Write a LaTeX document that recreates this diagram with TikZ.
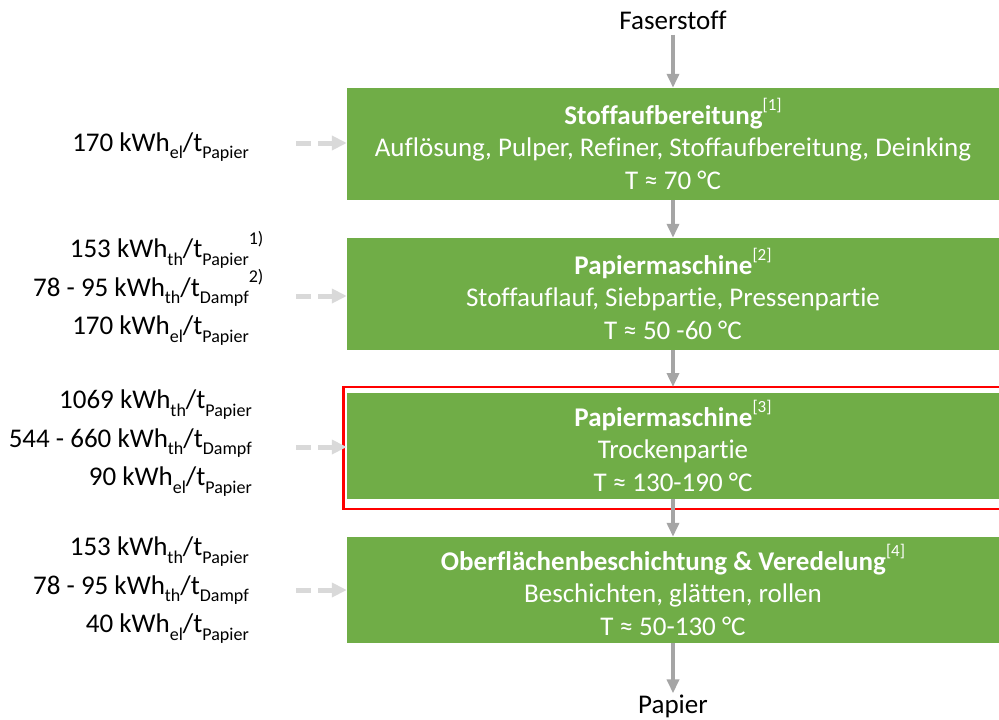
\documentclass[tikz,border=0pt]{standalone}
\usepackage{fontspec}
\setmainfont{Carlito}[Ligatures=NoCommon]
\usetikzlibrary{arrows.meta}
\definecolor{boxgreen}{HTML}{70AD47}
\definecolor{arrgray}{HTML}{A5A5A5}
\definecolor{dashgray}{HTML}{D9D9D9}
\definecolor{hlred}{HTML}{FF0000}
\newcommand\lo[1]{\raisebox{-0.28em}{\fontsize{18}{18}\selectfont #1}}
\newcommand\hi[1]{\rlap{\raisebox{0.5em}{\fontsize{18}{18}\selectfont #1}}}
\newcommand\srcref[1]{\raisebox{0.5em}{\fontsize{17}{17}\selectfont\mdseries[#1]}}
\tikzset{
  stepbox/.style={fill=boxgreen, draw=none, minimum width=652pt, text=white,
    align=center, inner sep=0pt, font=\fontsize{27}{32.5}\selectfont},
  lefttext/.style={anchor=east, align=right, inner sep=0pt,
    font=\fontsize{27}{38.5}\selectfont},
  endtext/.style={inner sep=2pt, font=\fontsize{27}{30}\selectfont},
  garrow/.style={draw=arrgray, line width=3.5pt, -{Triangle[width=12pt,length=14pt]}},
  darrow/.style={draw=dashgray, line width=5pt, dash pattern=on 15pt off 7pt,
    -{Triangle[width=14pt,length=15pt]}},
}
\begin{document}
\begin{tikzpicture}[x=1pt,y=-1pt]
\useasboundingbox (0,0) rectangle (999,720);
% highlight frame
\draw[hlred, line width=2.5pt] (1002,387) -| (343.5,509) -- (1002,509);
\coordinate (hltop) at (673,387);
% boxes
\node[stepbox, minimum height=112pt] (b1) at (673,144)
  {\textbf{Stoffaufbereitung}\srcref{1}\\Auflösung, Pulper, Refiner, Stoffaufbereitung, Deinking\\T ≈ 70 °C};
\node[stepbox, minimum height=112pt] (b2) at (673,294)
  {\textbf{Papiermaschine}\srcref{2}\\Stoffauflauf, Siebpartie, Pressenpartie\\T ≈ 50 -60 °C};
\node[stepbox, minimum height=106pt] (b3) at (673,446)
  {\textbf{Papiermaschine}\srcref{3}\\Trockenpartie\\T ≈ 130-190 °C};
\node[stepbox, minimum height=106pt] (b4) at (673,590)
  {\textbf{Oberflächenbeschichtung \& Veredelung}\srcref{4}\\Beschichten, glätten, rollen\\T ≈ 50-130 °C};
% end texts
\node[endtext] (fas) at (673,20) {Faserstoff};
\node[endtext] (pap) at (673,706) {Papier};
% flow arrows
\draw[garrow, shorten <=3pt] (fas) -- (b1);
\draw[garrow] (b1) -- (b2);
\draw[garrow] (b2) -- (hltop);
\draw[garrow] (b3) -- (b4);
\draw[garrow, shorten >=-1pt] (b4) -- (pap);
% left texts
\node[lefttext] (l1) at (249,147) {170 kWh\lo{el}/t\lo{Papier}};
\node[lefttext] (l2) at (249,288) {153 kWh\lo{th}/t\lo{Papier}\hi{1)}\\78 - 95 kWh\lo{th}/t\lo{Dampf}\hi{2)}\\170 kWh\lo{el}/t\lo{Papier}};
\node[lefttext] (l3) at (252,443) {1069 kWh\lo{th}/t\lo{Papier}\\544 - 660 kWh\lo{th}/t\lo{Dampf}\\90 kWh\lo{el}/t\lo{Papier}};
\node[lefttext] (l4) at (249,590) {153 kWh\lo{th}/t\lo{Papier}\\78 - 95 kWh\lo{th}/t\lo{Dampf}\\40 kWh\lo{el}/t\lo{Papier}};
% dashed supply arrows
\coordinate (d1) at (296,143);
\coordinate (d2) at (296,296);
\coordinate (d3) at (296,447);
\coordinate (d4) at (296,590);
\draw[darrow] (d1) -- (b1.west |- d1);
\draw[darrow] (d2) -- (b2.west |- d2);
\draw[darrow] (d3) -- (b3.west |- d3);
\draw[darrow] (d4) -- (b4.west |- d4);
\end{tikzpicture}
\end{document}
